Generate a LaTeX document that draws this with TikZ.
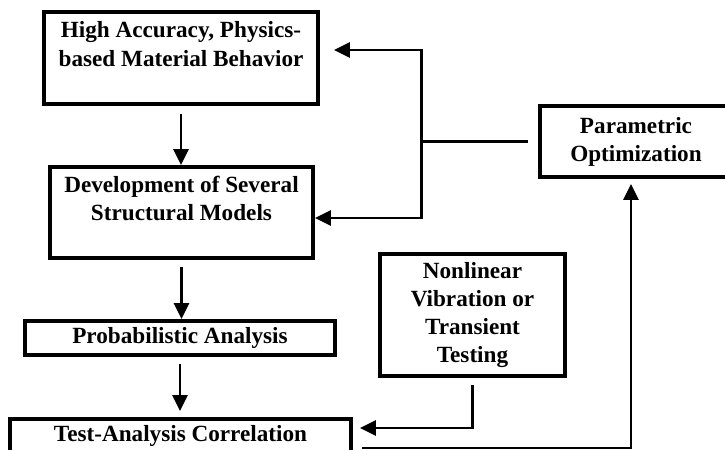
\documentclass[tikz,border=0pt]{standalone}
\usepackage{fontspec}
\setmainfont{Liberation Serif}
\usetikzlibrary{arrows.meta}

\begin{document}
\begin{tikzpicture}[x=0.02cm, y=-0.02cm,
    block/.style={draw, line width=2.2pt, align=center, inner sep=2pt,
      font=\bfseries\fontsize{13.2}{16}\selectfont},
    wire/.style={line width=1.7pt},
    flow/.style={wire, -{Triangle[length=0.32cm,width=0.3cm]}}]
			% Frame
			\clip (0,0) rectangle (725,450);

			% Boxes
			\node[block, minimum width=5.48cm, minimum height=1.84cm] (acc) at (181,58)
				{High Accuracy, Physics-\\based Material Behavior\\\mbox{}};
			\node[block, minimum width=5.26cm, minimum height=1.82cm] (dev) at (181.5,212.5)
				{Development of Several\\Structural Models\\\mbox{}};
			\node[block, minimum width=6.2cm, minimum height=0.68cm] (prob) at (180,338)
				{Probabilistic Analysis};
			\node[block, minimum width=6.82cm, minimum height=0.68cm] (test) at (180.5,436)
				{Test-Analysis Correlation};
			\node[block, minimum width=3.7cm, minimum height=2.44cm] (nonlin) at (472.5,315)
				{Nonlinear\\Vibration or\\Transient\\Testing};
			\node[block, minimum width=3.84cm, minimum height=1.42cm] (param) at (636,141.5)
				{Parametric\\Optimization};

			% Main chain
			\draw[flow, shorten <=0.16cm] (acc.south) -- (acc.south |- dev.north);
			\draw[flow, shorten <=0.14cm] (dev.south) -- (dev.south |- prob.north);
			\draw[flow, shorten <=0.14cm, shorten >=0.12cm] (prob.south) -- (prob.south |- test.north);

			% Feedback from optimization
			\coordinate (fork) at ([xshift=-2.34cm]param.west);
			\draw[wire, shorten <=0.2cm] (param.west) -- (fork);
			\draw[flow, shorten >=0.28cm] (fork) |- ([yshift=0.16cm]acc.east);
			\draw[flow] (fork) |- ([yshift=-0.11cm]dev.east);

			% Testing and correlation
			\draw[flow, shorten <=0.14cm, shorten >=0.14cm] (nonlin.south) |- ([yshift=0.16cm]test.east);
			\draw[flow, shorten <=0.18cm, shorten >=0.1cm] ([yshift=-0.24cm]test.east) -| ([xshift=-0.1cm]param.south);
		\end{tikzpicture}
\end{document}
